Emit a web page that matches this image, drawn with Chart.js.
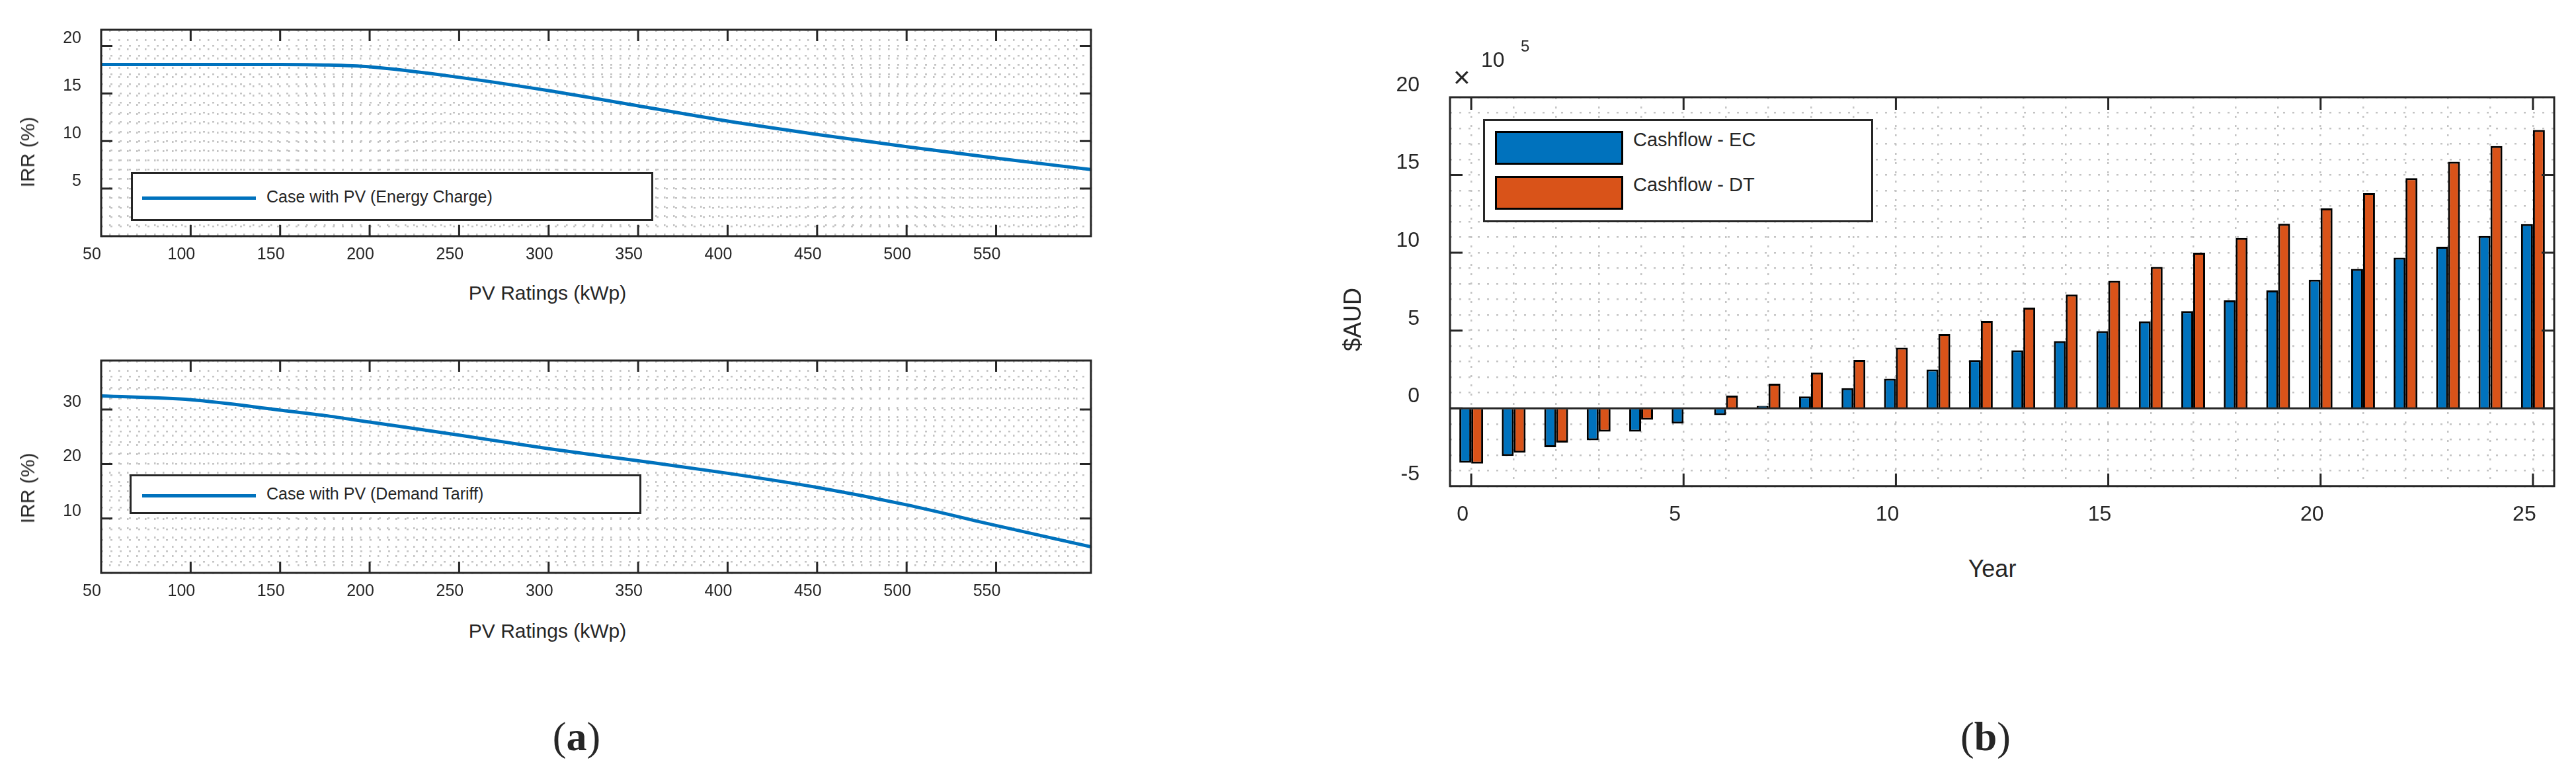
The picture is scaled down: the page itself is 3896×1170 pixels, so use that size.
<!DOCTYPE html>
<html>
<head>
<meta charset="utf-8">
<script src="https://cdn.jsdelivr.net/npm/chart.js@4.4.1/dist/chart.umd.min.js"></script>
<style>
  body { margin: 0; background: #fff; width: 3896px; height: 1170px; position: relative; overflow: hidden;
         font-family: "Liberation Sans", Arial, sans-serif; color: #262626; }
  .box { position: absolute; }
  .lg { position: absolute; background: #fff; border: 3px solid #262626; box-sizing: border-box; }
  .txt { position: absolute; white-space: nowrap; }
  .cap { position: absolute; font-family: "Liberation Serif", serif; font-size: 62px; transform: translateX(-50%); }
</style>
</head>
<body>
<div class="box" style="left:0;top:0;width:1680px;height:420px"><canvas id="irrEC"></canvas></div>
<div class="box" style="left:0;top:500px;width:1680px;height:420px"><canvas id="irrDT"></canvas></div>
<div class="box" style="left:2000px;top:0;width:1896px;height:800px"><canvas id="cash"></canvas></div>

<!-- axis titles -->
<div class="txt" style="left:42px;top:230px;font-size:30px;transform:translate(-50%,-50%) rotate(-90deg)">IRR (%)</div>
<div class="txt" style="left:828px;top:443px;font-size:30px;transform:translate(-50%,-50%)">PV Ratings (kWp)</div>
<div class="txt" style="left:42px;top:738px;font-size:30px;transform:translate(-50%,-50%) rotate(-90deg)">IRR (%)</div>
<div class="txt" style="left:828px;top:954px;font-size:30px;transform:translate(-50%,-50%)">PV Ratings (kWp)</div>
<div class="txt" style="left:2046px;top:483px;font-size:36px;transform:translate(-50%,-50%) rotate(-90deg)">$AUD</div>
<div class="txt" style="left:3013px;top:860px;font-size:36px;transform:translate(-50%,-50%)">Year</div>
<div class="txt" style="left:2198px;top:95px;font-size:44px;line-height:44px">&#x00D7;</div>
<div class="txt" style="left:2240px;top:74px;font-size:32px;line-height:32px">10</div>
<div class="txt" style="left:2300px;top:58px;font-size:24px;line-height:24px">5</div>

<!-- legends -->
<div class="lg" style="left:198px;top:260px;width:790px;height:74px">
  <div style="position:absolute;left:14px;top:34px;width:172px;height:5px;background:#0072BD"></div>
  <div class="txt" style="left:202px;top:20px;font-size:25px">Case with PV (Energy Charge)</div>
</div>
<div class="lg" style="left:196px;top:717px;width:774px;height:60px">
  <div style="position:absolute;left:16px;top:27px;width:172px;height:5px;background:#0072BD"></div>
  <div class="txt" style="left:204px;top:12px;font-size:25px">Case with PV (Demand Tariff)</div>
</div>
<div class="lg" style="left:2243px;top:180px;width:590px;height:156px">
  <div style="position:absolute;left:15px;top:15px;width:194px;height:51px;background:#0072BD;border:3px solid #000;box-sizing:border-box"></div>
  <div style="position:absolute;left:15px;top:83px;width:194px;height:51px;background:#D95319;border:3px solid #000;box-sizing:border-box"></div>
  <div class="txt" style="left:224px;top:12px;font-size:29px">Cashflow - EC</div>
  <div class="txt" style="left:224px;top:80px;font-size:29px">Cashflow - DT</div>
</div>

<div class="cap" style="left:872px;top:1078px">(<b>a</b>)</div>
<div class="cap" style="left:3003px;top:1078px">(<b>b</b>)</div>

<script>
// PV rating sweep (kWp) and IRR (%)
const pvRatings = [50, 100, 150, 175, 200, 250, 300, 350, 400, 450, 500, 550, 603];
const irrEnergyCharge = [18.05, 18.05, 18.05, 18.0, 17.8, 16.7, 15.3, 13.7, 12.1, 10.7, 9.4, 8.2, 7.0];
const irrDemandTariff = [32.5, 31.8, 29.9, 28.9, 27.7, 25.3, 22.8, 20.6, 18.3, 15.7, 12.5, 8.7, 4.8];

// yearly cashflow, in units of 10^5 AUD, panel (b)
const years = ['0','1','2','3','4','5','6','7','8','9','10','11','12','13','14','15','16','17','18','19','20','21','22','23','24','25'];
const cashEC = [-3.5, -3.06, -2.5, -2.05, -1.5, -0.98, -0.44, 0.16, 0.76, 1.3, 1.9, 2.5, 3.1, 3.73, 4.32, 4.96, 5.59, 6.25, 6.94, 7.58, 8.27, 8.96, 9.69, 10.39, 11.08, 11.84];
const cashDT = [-3.55, -2.85, -2.2, -1.5, -0.73, 0.03, 0.82, 1.58, 2.3, 3.12, 3.9, 4.77, 5.62, 6.47, 7.32, 8.2, 9.09, 10.0, 10.95, 11.87, 12.85, 13.83, 14.8, 15.85, 16.86, 17.9];

const axisCol = '#262626';
const gridCol = '#c4c4c4';

// frame + inward major ticks like matlab
const framePlugin = {
  id: 'frame',
  afterDatasetsDraw(chart, args, opts) {
    const c = chart.ctx, a = chart.chartArea;
    c.save();
    c.strokeStyle = axisCol;
    if (opts.zeroLine) {
      const y0 = chart.scales.y.getPixelForValue(0);
      c.lineWidth = 3;
      c.beginPath(); c.moveTo(a.left, y0); c.lineTo(a.right, y0); c.stroke();
    }
    c.lineWidth = 3;
    c.strokeRect(a.left, a.top, a.right - a.left, a.bottom - a.top);
    const len = opts.len || 17;
    const xs = chart.scales.x, ys = chart.scales.y;
    c.beginPath();
    xs.ticks.forEach((t, i) => {
      if (t.label === '' ) return;
      const px = xs.getPixelForTick(i);
      if (px <= a.left + 2 || px >= a.right - 2) return;
      c.moveTo(px, a.bottom); c.lineTo(px, a.bottom - len);
      c.moveTo(px, a.top); c.lineTo(px, a.top + len);
    });
    ys.ticks.forEach((t, i) => {
      if (t.label === '') return;
      const py = ys.getPixelForTick(i);
      if (py <= a.top + 2 || py >= a.bottom - 2) return;
      c.moveTo(a.left, py); c.lineTo(a.left + len, py);
      c.moveTo(a.right, py); c.lineTo(a.right - len, py);
    });
    c.stroke();
    c.restore();
  }
};

function irrChart(id, values, yMax, yStep, yMajor, topPad, xHeight) {
  return new Chart(document.getElementById(id), {
    type: 'line',
    data: {
      datasets: [{
        data: pvRatings.map((x, i) => ({ x: x, y: values[i] })),
        borderColor: '#0072BD',
        borderWidth: 5,
        pointRadius: 0,
        cubicInterpolationMode: 'monotone'
      }]
    },
    plugins: [framePlugin],
    options: {
      responsive: true,
      maintainAspectRatio: false,
      animation: false,
      layout: { padding: { top: topPad, right: 30, left: 0, bottom: 0 } },
      plugins: { legend: { display: false }, tooltip: { enabled: false }, frame: { len: 17 } },
      scales: {
        x: {
          type: 'linear', min: 50, max: 603,
          afterFit: s => { s.height = xHeight; },
          grid: { color: gridCol, lineWidth: 2.5, drawTicks: false },
          border: { display: false, dash: [3, 11] },
          ticks: {
            stepSize: 5, autoSkip: false, maxRotation: 0, padding: 13, labelOffset: -14,
            color: axisCol, font: { size: 25, family: 'Liberation Sans' },
            callback: v => (v % 50 === 0 ? String(v) : '')
          }
        },
        y: {
          min: 0, max: yMax,
          afterFit: s => { s.width = 153; },
          grid: { color: gridCol, lineWidth: 2.5, drawTicks: false },
          border: { display: false, dash: [3, 11] },
          ticks: {
            stepSize: yStep, autoSkip: false, padding: 30, labelOffset: -11,
            color: axisCol, font: { size: 25, family: 'Liberation Sans' },
            callback: v => (v > 0 && v % yMajor === 0 ? String(v) : '')
          }
        }
      }
    }
  });
}

irrChart('irrEC', irrEnergyCharge, 21.7, 1, 5, 33, 63);
irrChart('irrDT', irrDemandTariff, 39, 2, 10, 38, 54);

new Chart(document.getElementById('cash'), {
  type: 'bar',
  data: {
    labels: years,
    datasets: [
      { label: 'Cashflow - EC', data: cashEC, backgroundColor: '#0072BD', borderColor: '#000', borderWidth: 3 },
      { label: 'Cashflow - DT', data: cashDT, backgroundColor: '#D95319', borderColor: '#000', borderWidth: 3 }
    ]
  },
  plugins: [framePlugin],
  options: {
    responsive: true,
    maintainAspectRatio: false,
    animation: false,
    layout: { padding: { top: 147, right: 33, left: 0, bottom: 0 } },
    plugins: { legend: { display: false }, tooltip: { enabled: false }, frame: { len: 19, zeroLine: true } },
    datasets: { bar: { barPercentage: 1, categoryPercentage: 0.56 } },
    scales: {
      x: {
        afterFit: s => { s.height = 62; },
        grid: { color: gridCol, lineWidth: 2.5, drawTicks: false, offset: false },
        border: { display: false, dash: [3, 11] },
        ticks: {
          autoSkip: false, maxRotation: 0, padding: 24, labelOffset: -13,
          color: axisCol, font: { size: 32, family: 'Liberation Sans' },
          callback: function (v) { return v % 5 === 0 ? this.getLabelForValue(v) : ''; }
        }
      },
      y: {
        min: -5, max: 20,
        afterFit: s => { s.width = 193; },
        grid: { color: gridCol, lineWidth: 2.5, drawTicks: false },
        border: { display: false, dash: [3, 11] },
        ticks: {
          stepSize: 1, autoSkip: false, padding: 46, labelOffset: -18,
          color: axisCol, font: { size: 32, family: 'Liberation Sans' },
          callback: v => (v % 5 === 0 ? String(v) : '')
        }
      }
    }
  }
});
</script>
</body>
</html>
